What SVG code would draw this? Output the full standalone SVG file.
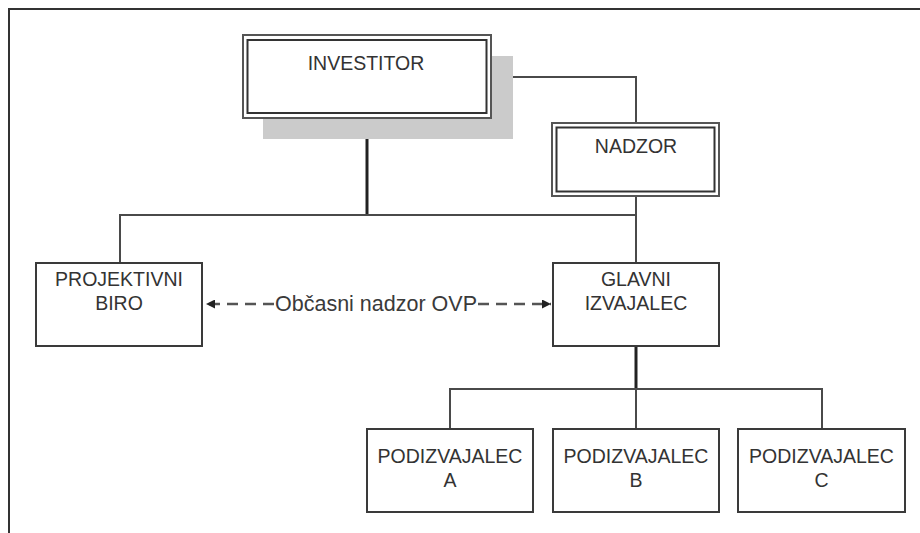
<svg xmlns="http://www.w3.org/2000/svg" width="920" height="533" viewBox="0 0 920 533">
<style>
.t{font-family:"Liberation Sans",Arial,sans-serif;font-size:19.5px;fill:#333;text-anchor:middle}
.lbl{font-family:"Liberation Sans",Arial,sans-serif;font-size:21.5px;fill:#3a3a3a;text-anchor:middle}
.box{fill:#fff;stroke:#3a3a3a;stroke-width:2}
.outer{fill:#fff;stroke:#555;stroke-width:2}
.inner{fill:none;stroke:#333;stroke-width:2}
.c{fill:none;stroke:#4a4a4a;stroke-width:2}
.ck{fill:none;stroke:#222;stroke-width:3}
.d{fill:none;stroke:#555;stroke-width:2.5;stroke-dasharray:11 7}
</style>
<defs>
<marker id="ah" viewBox="0 0 10 10" refX="10" refY="5" markerWidth="12" markerHeight="9" markerUnits="userSpaceOnUse" orient="auto">
<path d="M0,0 L10,5 L0,10 z" fill="#222"/>
</marker>
</defs>
<rect width="920" height="533" fill="#fff"/>
<path d="M9,533 V9 H920" fill="none" stroke="#333" stroke-width="2"/>
<g id="connectors">
<path class="c" d="M491,77 H636 V123"/>
<path class="ck" d="M367,118 V215"/>
<path class="c" d="M120,263 V215 H636"/>
<path class="c" d="M636,196 V263"/>
<path class="ck" d="M636,346 V389"/>
<path class="c" d="M450,429 V389 H822 V429"/>
<path class="c" d="M636,389 V429"/>
<path class="d" d="M274,304 H206" marker-end="url(#ah)"/>
<path class="d" d="M478,304 H551" marker-end="url(#ah)"/>
<text class="lbl" x="376" y="311">Občasni nadzor OVP</text>
</g>
<g id="investitor">
<rect x="263" y="56" width="250" height="83" fill="#cbcbcb"/>
<rect class="outer" x="243" y="35" width="248" height="83"/>
<rect class="inner" x="247.5" y="40" width="239" height="73"/>
<text class="t" x="366" y="70">INVESTITOR</text>
</g>
<g id="nadzor">
<rect class="outer" x="552" y="123" width="167" height="73"/>
<rect class="inner" x="556.5" y="127.5" width="158" height="64"/>
<text class="t" x="636" y="153">NADZOR</text>
</g>
<g id="projektivni-biro">
<rect class="box" x="36" y="263" width="166" height="83"/>
<text class="t" x="119" y="286">PROJEKTIVNI</text>
<text class="t" x="119" y="310">BIRO</text>
</g>
<g id="glavni-izvajalec">
<rect class="box" x="553" y="263" width="166" height="83"/>
<text class="t" x="636" y="286">GLAVNI</text>
<text class="t" x="636" y="310">IZVAJALEC</text>
</g>
<g id="podizvajalec-a">
<rect class="box" x="367" y="429" width="166" height="83"/>
<text class="t" x="450" y="463">PODIZVAJALEC</text>
<text class="t" x="450" y="487">A</text>
</g>
<g id="podizvajalec-b">
<rect class="box" x="553" y="429" width="166" height="83"/>
<text class="t" x="636" y="463">PODIZVAJALEC</text>
<text class="t" x="636" y="487">B</text>
</g>
<g id="podizvajalec-c">
<rect class="box" x="738" y="429" width="167" height="83"/>
<text class="t" x="821.5" y="463">PODIZVAJALEC</text>
<text class="t" x="821.5" y="487">C</text>
</g>
</svg>
